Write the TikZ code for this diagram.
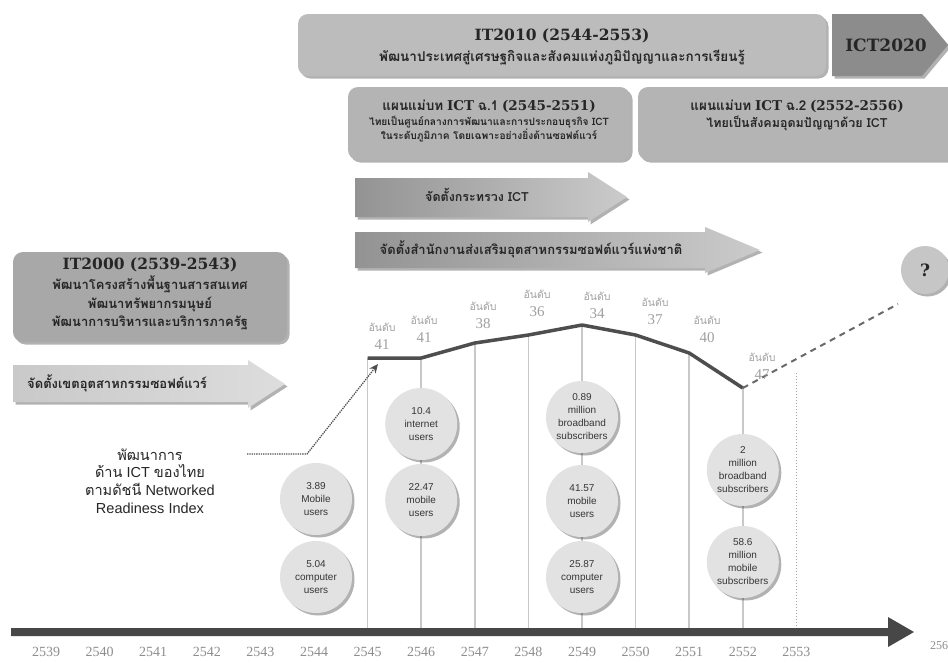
\documentclass[tikz,border=0pt]{standalone}
\usepackage{fontspec}
\setmainfont{Liberation Sans}
\newfontfamily\thai[Script=Thai]{Loma}
\newfontfamily\slab{DejaVu Serif}
\newfontfamily\yrf{Liberation Serif}
\usetikzlibrary{shadows,arrows.meta}
\definecolor{boxgray}{HTML}{BCBCBC}
\definecolor{planbox}{HTML}{B4B4B4}
\definecolor{oldbox}{HTML}{A8A8A8}
\definecolor{darkbox}{HTML}{8C8C8C}
\definecolor{txt}{HTML}{262626}
\definecolor{bubblegray}{HTML}{E2E2E2}
\definecolor{bubtxt}{HTML}{363636}
\definecolor{vlinegray}{HTML}{C8C8C8}
\definecolor{chartgray}{HTML}{4E4E4E}
\definecolor{axisgray}{HTML}{474747}
\definecolor{rankgray}{HTML}{A0A0A0}
\definecolor{yeargray}{HTML}{8E8E8E}
\definecolor{arrL}{HTML}{939393}
\definecolor{arrR}{HTML}{CBCBCB}
\definecolor{arrLL}{HTML}{C9C9C9}
\definecolor{arrLR}{HTML}{DDDDDD}
\definecolor{qgray}{HTML}{C6C6C6}
\tikzset{
  shad/.style={drop shadow={shadow xshift=2.5pt,shadow yshift=-2.5pt,fill=black,opacity=.3}},
  bigbox/.style={fill=#1, rounded corners=10pt, inner sep=0pt, shad},
  ttl/.style={text=txt, font=\slab\bfseries\fontsize{15.5}{17}\selectfont, inner sep=0pt},
  thaitext/.style={text=txt, align=center, inner sep=0pt},
  bubble/.style={circle, fill=bubblegray, minimum size=72pt, inner sep=0pt, align=center, text=bubtxt, font=\fontsize{10}{13}\selectfont, shad},
  rankword/.style={text=rankgray, inner sep=0pt, font=\thai\fontsize{10.5}{12}\selectfont},
  ranknum/.style={text=rankgray, inner sep=0pt, font=\yrf\fontsize{15}{15}\selectfont},
  yearlbl/.style={text=yeargray, font=\yrf\fontsize{14}{14}\selectfont, inner sep=0pt},
  vl/.style={draw=vlinegray, line width=1.5pt},
  chart/.style={draw=chartgray, line width=3.5pt, line join=round},
}
\begin{document}
\begin{tikzpicture}[x=1pt,y=-1pt]
\useasboundingbox (0,0) rectangle (948,662);
\fill[white] (0,0) rectangle (948,662);

% ---- top boxes
\node[bigbox=boxgray, minimum width=528pt, minimum height=62pt] (it2010) at (562,45) {};
\node[ttl] (it2010t) at (562,36) {IT2010 (2544-2553)};
\node[thaitext, font=\thai\bfseries\fontsize{13.5}{15}\selectfont] (it2010s) at (562,58) {พัฒนาประเทศสู่เศรษฐกิจและสังคมแห่งภูมิปัญญาและการเรียนรู้};

\fill[darkbox, shad] (832,14) -- (922,14) -- (948,45) -- (922,76) -- (832,76) -- cycle;
\node[ttl, font=\slab\bfseries\fontsize{17}{17}\selectfont] (ict2020) at (886,45) {ICT2020};

\node[bigbox=planbox, minimum width=282pt, minimum height=73pt] (plan1) at (489,123.5) {};
\node[thaitext, font=\fontsize{13.5}{15}\selectfont] (plan1t) at (489,106) {{\thai\bfseries แผนแม่บท} {\slab\bfseries ICT} {\thai\bfseries ฉ.1} {\slab\bfseries (2545-2551)}};
\node[thaitext, font=\thai\bfseries\fontsize{10.2}{14}\selectfont] (plan1s) at (489,129) {ไทยเป็นศูนย์กลางการพัฒนาและการประกอบธุรกิจ ICT\\ในระดับภูมิภาค โดยเฉพาะอย่างยิ่งด้านซอฟต์แวร์};

\node[bigbox=planbox, minimum width=320pt, minimum height=73pt] (plan2) at (798,123.5) {};
\node[thaitext, font=\fontsize{13.5}{15}\selectfont] (plan2t) at (797,106) {{\thai\bfseries แผนแม่บท} {\slab\bfseries ICT} {\thai\bfseries ฉ.2} {\slab\bfseries (2552-2556)}};
\node[thaitext, font=\thai\bfseries\fontsize{12.5}{14}\selectfont] (plan2s) at (797,123) {ไทยเป็นสังคมอุดมปัญญาด้วย ICT};

% ---- arrows
\path[left color=arrL, right color=arrR, shad] (355,178) -- (588,178) -- (588,172) -- (627,197) -- (588,222) -- (588,217) -- (355,217) -- cycle;
\node[thaitext, font=\thai\bfseries\fontsize{12.5}{15}\selectfont] (moict) at (477,195) {จัดตั้งกระทรวง ICT};

\path[left color=arrL, right color=arrR, shad] (355,232) -- (705,232) -- (705,227) -- (760,250) -- (705,273) -- (705,268) -- (355,268) -- cycle;
\node[thaitext, font=\thai\bfseries\fontsize{13}{15}\selectfont] (sipa) at (531,249) {จัดตั้งสำนักงานส่งเสริมอุตสาหกรรมซอฟต์แวร์แห่งชาติ};

\node[bigbox=oldbox, minimum width=274pt, minimum height=90pt] (it2000) at (150,297) {};
\node[ttl] (it2000t) at (150,265) {IT2000 (2539-2543)};
\node[thaitext, font=\thai\bfseries\fontsize{13}{18.5}\selectfont] (it2000s) at (150,303) {พัฒนาโครงสร้างพื้นฐานสารสนเทศ\\พัฒนาทรัพยากรมนุษย์\\พัฒนาการบริหารและบริการภาครัฐ};

\path[left color=arrLL, right color=arrLR, shad] (13,365) -- (248,365) -- (248,360) -- (285,384) -- (248,408) -- (248,402) -- (13,402) -- cycle;
\node[thaitext, anchor=west, font=\thai\bfseries\fontsize{13}{15}\selectfont] (swpark) at (27,383) {จัดตั้งเขตอุตสาหกรรมซอฟต์แวร์};

% ---- chart
\coordinate (c45) at (367.6,358);
\coordinate (c46) at (421.2,358);
\coordinate (c47) at (474.8,343);
\coordinate (c48) at (528.4,335);
\coordinate (c49) at (582,325);
\coordinate (c50) at (635.6,335);
\coordinate (c51) at (689.2,353);
\coordinate (c52) at (742.8,388);
\foreach \n/\x in {45/367.6,46/421.2,47/474.8,48/528.4,49/582,50/635.6,51/689.2,52/742.8}
  {\coordinate (a\n) at (\x,628); \draw[vl] (c\n) -- (a\n);}
\coordinate (c53) at (796.4,373);
\coordinate (a53) at (796.4,628);
\draw[vlinegray!80!black, line width=1pt, dotted] (c53) -- (a53);

\draw[chart] (c45) -- (c46) -- (c47) -- (c48) -- (c49) -- (c50) -- (c51) -- (c52);

\node[circle, fill=qgray, minimum size=48pt, inner sep=0pt, shad, text=txt, font=\slab\bfseries\fontsize{17}{17}\selectfont] (q) at (925,270) {?};
\coordinate (qend) at (898,304);
\draw[chartgray!85, line width=2pt, dash pattern=on 6pt off 5pt] (c52) -- (qend);

% rank labels: word above, number below
\foreach \nm/\x/\y/\v in {45/382/327/41, 46/424/320/41, 47/483/306/38, 48/537/294/36, 49/597/296/34, 50/655/302/37, 51/707/320/40, 52/762/357/47}
  {\node[rankword] (rw\nm) at (\x,\y) {อันดับ};
   \node[ranknum] (rn\nm) at (\x,\y+18) {\v};}

% ---- bubbles
\node[bubble] (b389) at (316,499) {3.89\\Mobile\\users};
\node[bubble] (b504) at (316,577) {5.04\\computer\\users};
\node[bubble] (b104) at (421.2,424) {10.4\\internet\\users};
\node[bubble] (b2247) at (421.2,500) {22.47\\mobile\\users};
\node[bubble] (b089) at (582,417) {0.89\\million\\broadband\\subscribers};
\node[bubble] (b4157) at (582,501) {41.57\\mobile\\users};
\node[bubble] (b2587) at (582,577) {25.87\\computer\\users};
\node[bubble] (b2) at (742.8,470) {2\\million\\broadband\\subscribers};
\node[bubble] (b586) at (742.8,562) {58.6\\million\\mobile\\subscribers};

% ---- NRI note
\node[thaitext, font=\fontsize{14.5}{17.7}\selectfont] (nri) at (150,481) {{\thai พัฒนาการ}\\{\thai ด้าน} ICT {\thai ของไทย}\\{\thai ตามดัชนี} Networked\\Readiness Index};
\coordinate (d1) at (247,454);
\coordinate (d2) at (307,454);
\coordinate (dtip) at (378,364);
\draw[chartgray, line width=1.3pt, densely dotted, -{Stealth[length=9pt,width=8pt]}] (d1) -- (d2) -- (dtip);

% ---- axis
\fill[axisgray] (11,628) -- (888,628) -- (888,617) -- (914,632) -- (888,647) -- (888,636) -- (11,636) -- cycle;
\foreach \yr [count=\i from 0] in {2539,2540,2541,2542,2543,2544,2545,2546,2547,2548,2549,2550,2551,2552,2553}
  \node[yearlbl] (y\yr) at (46+\i*53.6,652) {\yr};
\node[yearlbl, anchor=west, font=\yrf\fontsize{12}{12}\selectfont] (y2563) at (930,646) {2563};
\end{tikzpicture}
\end{document}
